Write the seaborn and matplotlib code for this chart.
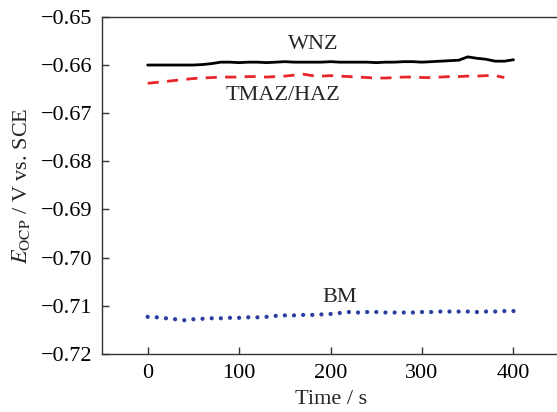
import numpy as np
import pandas as pd
import matplotlib
matplotlib.use('Agg')
import matplotlib.pyplot as plt
import seaborn as sns

# Time (s) sampled every 10 s
time = list(range(0, 401, 10))

wnz = [-0.6600, -0.6600, -0.6600, -0.6600, -0.6600, -0.6600, -0.6599, -0.6597, -0.6594, -0.6594,
       -0.6595, -0.6594, -0.6594, -0.6595, -0.6594, -0.6593, -0.6594, -0.6594, -0.6594, -0.6594,
       -0.6593, -0.6594, -0.6594, -0.6594, -0.6594, -0.6595, -0.6594, -0.6594, -0.6593, -0.6593,
       -0.6594, -0.6593, -0.6592, -0.6591, -0.6590, -0.6583, -0.6586, -0.6588, -0.6592, -0.6592,
       -0.6589]

tmaz = [-0.6638, -0.6636, -0.6634, -0.6632, -0.6630, -0.6628, -0.6627, -0.6626, -0.6625, -0.6625,
        -0.6625, -0.6624, -0.6624, -0.6625, -0.6624, -0.6623, -0.6621, -0.6619, -0.6622, -0.6623,
        -0.6622, -0.6623, -0.6624, -0.6625, -0.6626, -0.6627, -0.6627, -0.6626, -0.6625, -0.6625,
        -0.6626, -0.6626, -0.6625, -0.6624, -0.6624, -0.6623, -0.6623, -0.6622, -0.6622, -0.6626,
        None]

bm = [-0.7123, -0.7124, -0.7126, -0.7128, -0.7130, -0.7128, -0.7127, -0.7126, -0.7126, -0.7125,
      -0.7125, -0.7124, -0.7124, -0.7123, -0.7121, -0.7120, -0.7120, -0.7119, -0.7119, -0.7118,
      -0.7117, -0.7115, -0.7113, -0.7114, -0.7113, -0.7113, -0.7114, -0.7114, -0.7114, -0.7114,
      -0.7113, -0.7113, -0.7112, -0.7112, -0.7112, -0.7112, -0.7113, -0.7112, -0.7112, -0.7111,
      -0.7111]

df = pd.DataFrame({'Time': time, 'WNZ': wnz, 'TMAZ/HAZ': tmaz, 'BM': bm})

sns.set_style('ticks')
plt.rcParams['font.family'] = ['Liberation Serif', 'DejaVu Serif']
plt.rcParams['mathtext.fontset'] = 'stix'
plt.rcParams['xtick.direction'] = 'in'
plt.rcParams['ytick.direction'] = 'in'

fig = plt.figure(figsize=(5.57, 4.12), dpi=100)
ax = fig.add_axes([0.183, 0.141, 0.821, 0.818])

sns.lineplot(data=df, x='Time', y='WNZ', color='black', linewidth=2, ax=ax)
sns.lineplot(data=df.dropna(), x='Time', y='TMAZ/HAZ', color='#e8262a', linewidth=2,
             dashes=False, ax=ax).lines[-1].set_dashes([4, 3])
sns.scatterplot(data=df, x='Time', y='BM', color='#2b3ea0', s=9, edgecolor='none', ax=ax)

ax.text(181, -0.6558, 'WNZ', ha='center', va='center', fontsize=16)
ax.text(148, -0.6664, 'TMAZ/HAZ', ha='center', va='center', fontsize=16)
ax.text(210, -0.7082, 'BM', ha='center', va='center', fontsize=16)

ax.set_xlim(-50, 450)
ax.set_ylim(-0.72, -0.65)
ax.set_xticks([0, 100, 200, 300, 400])
ax.set_yticks(np.round(np.arange(-0.72, -0.649, 0.01), 2))
ax.set_yticklabels(['\u22120.72', '\u22120.71', '\u22120.70', '\u22120.69', '\u22120.68',
                    '\u22120.67', '\u22120.66', '\u22120.65'])
ax.tick_params(labelsize=16, length=5, width=1, pad=7, colors='#333333', labelcolor='black')
ax.set_xlabel('Time / s', fontsize=16, labelpad=5)
ax.set_ylabel(r'$E_{\rm OCP}$ / V vs. SCE', fontsize=16, labelpad=6)
for s in ax.spines.values():
    s.set_color('#333333')
    s.set_linewidth(1)

fig.savefig('out.png', dpi=100)
